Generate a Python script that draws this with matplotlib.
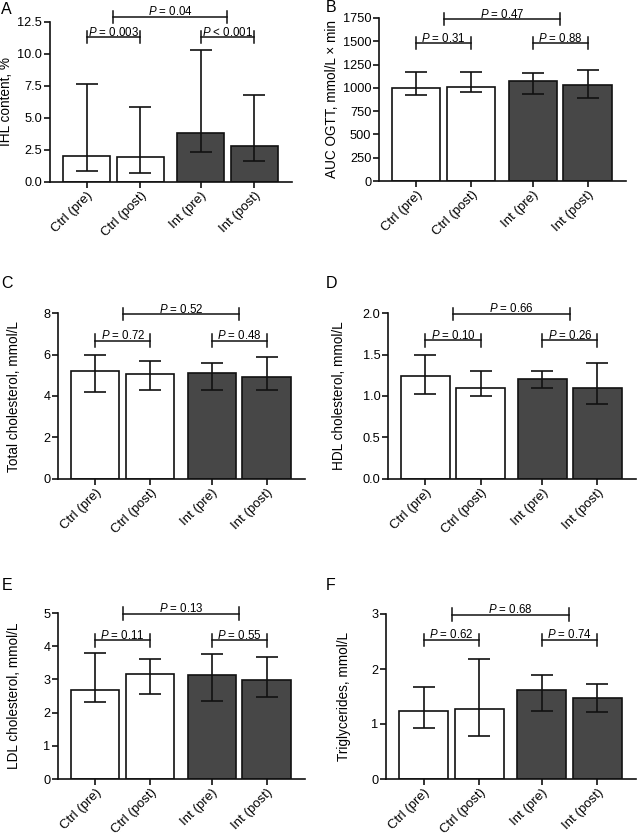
import matplotlib
matplotlib.use("Agg")
import matplotlib.pyplot as plt
import numpy as np

plt.rcParams['font.family'] = ['Liberation Sans', 'DejaVu Sans']
plt.rcParams['mathtext.fontset'] = 'custom'
plt.rcParams['mathtext.it'] = 'Liberation Sans:italic'
plt.rcParams['mathtext.rm'] = 'Liberation Sans'

categories = ["Ctrl (pre)", "Ctrl (post)", "Int (pre)", "Int (post)"]
bar_colors = ["white", "white", "#474747", "#474747"]

# Panel A: IHL content
a_vals = [2.07, 1.94, 3.84, 2.82]
a_lo = [0.89, 0.68, 2.33, 1.62]
a_hi = [7.69, 5.86, 10.30, 6.80]
a_p = ["= 0.003", "< 0.001", "= 0.04"]

# Panel B: AUC OGTT
b_vals = [1000, 1007, 1075, 1029]
b_lo = [921, 954, 936, 893]
b_hi = [1171, 1171, 1164, 1189]
b_p = ["= 0.31", "= 0.88", "= 0.47"]

# Panel C: Total cholesterol
c_vals = [5.19, 5.05, 5.11, 4.92]
c_lo = [4.18, 4.31, 4.31, 4.31]
c_hi = [6.00, 5.71, 5.61, 5.87]
c_p = ["= 0.72", "= 0.48", "= 0.52"]

# Panel D: HDL cholesterol
d_vals = [1.246, 1.097, 1.20, 1.10]
d_lo = [1.02, 1.00, 1.10, 0.90]
d_hi = [1.50, 1.30, 1.30, 1.40]
d_p = ["= 0.10", "= 0.26", "= 0.66"]

# Panel E: LDL cholesterol
e_vals = [2.68, 3.17, 3.12, 2.98]
e_lo = [2.31, 2.57, 2.36, 2.48]
e_hi = [3.80, 3.60, 3.76, 3.67]
e_p = ["= 0.11", "= 0.55", "= 0.13"]

# Panel F: Triglycerides
f_vals = [1.235, 1.27, 1.61, 1.47]
f_lo = [0.92, 0.79, 1.235, 1.21]
f_hi = [1.67, 2.19, 1.89, 1.73]
f_p = ["= 0.62", "= 0.74", "= 0.68"]

W, H = 638, 836
fig = plt.figure(figsize=(W / 100, H / 100), dpi=100)

def box(l, r, t, b):
    return [l / W, 1 - b / H, (r - l) / W, (b - t) / H]

xpos = np.array([0, 1, 2.12, 3.12])

def panel(rect, letter, letter_xy, vals, lo, hi, p, ymax, yticks, yticklabels, ylabel,
          br_low, br_high, ylab_x):
    ax = fig.add_axes(rect)
    vals = np.array(vals); lo = np.array(lo); hi = np.array(hi)
    ax.bar(xpos, vals, width=0.88, color=bar_colors, edgecolor="#111111", linewidth=1.2, zorder=2)
    ax.errorbar(xpos, vals, yerr=[vals - lo, hi - vals], fmt="none", ecolor="#111111",
                elinewidth=1.2, capsize=8, capthick=1.2, zorder=3)
    ax.set_xlim(-0.68, 3.82)
    ax.set_ylim(0, ymax)
    ax.set_yticks(yticks)
    ax.set_yticklabels(yticklabels, fontsize=9.2)
    ax.set_xticks(xpos)
    ax.set_xticklabels(categories, rotation=45, ha="right", rotation_mode="anchor", fontsize=9.5)
    for s in ["top", "right"]:
        ax.spines[s].set_visible(False)
    for s in ["left", "bottom"]:
        ax.spines[s].set_linewidth(1.2)
        ax.spines[s].set_color("#111111")
    ax.tick_params(direction="out", length=4, width=1.2, color="#111111", pad=1.5)
    ax.set_ylabel(ylabel, fontsize=9.8)
    l, b, w, h = rect
    ax.yaxis.set_label_coords((ylab_x / W - l) / w, 0.5)
    th = ymax * 0.038
    pairs = [(xpos[0], xpos[1], br_low), (xpos[2], xpos[3], br_low),
             (0.5 * (xpos[0] + xpos[1]), 0.5 * (xpos[2] + xpos[3]), br_high)]
    for (x0, x1, yb), ptxt in zip(pairs, p):
        ax.plot([x0, x1], [yb, yb], color="#111111", lw=1.1, clip_on=False, zorder=4)
        for xx in (x0, x1):
            ax.plot([xx, xx], [yb - th, yb + th], color="#111111", lw=1.1, clip_on=False, zorder=4)
        ax.text(0.5 * (x0 + x1), yb - ymax * 0.01, "$P$ " + ptxt, ha="center", va="bottom",
                fontsize=8.3, clip_on=False)
    fig.text(letter_xy[0] / W, 1 - letter_xy[1] / H, letter, fontsize=11.5, ha="left", va="center")
    return ax

panel(box(50, 292, 22, 182), "A", (1, 10), a_vals, a_lo, a_hi, a_p, 12.5,
      [0, 2.5, 5, 7.5, 10, 12.5], ["0.0", "2.5", "5.0", "7.5", "10.0", "12.5"],
      "IHL content, %", 11.3, 12.9, 13)

panel(box(379, 626, 18, 181), "B", (326, 8), b_vals, b_lo, b_hi, b_p, 1750,
      [0, 250, 500, 750, 1000, 1250, 1500, 1750],
      ["0", "250", "500", "750", "1000", "1250", "1500", "1750"],
      "AUC OGTT, mmol/L × min", 1482, 1736, 339)

panel(box(58, 305, 313, 479), "C", (1, 283), c_vals, c_lo, c_hi, c_p, 8,
      [0, 2, 4, 6, 8], ["0", "2", "4", "6", "8"],
      "Total cholesterol, mmol/L", 6.66, 7.95, 21)

panel(box(388, 636, 313, 479), "D", (326, 283), d_vals, d_lo, d_hi, d_p, 2.0,
      [0, 0.5, 1.0, 1.5, 2.0], ["0.0", "0.5", "1.0", "1.5", "2.0"],
      "HDL cholesterol, mmol/L", 1.67, 1.99, 346)

panel(box(58, 305, 613, 779), "E", (2, 585), e_vals, e_lo, e_hi, e_p, 5,
      [0, 1, 2, 3, 4, 5], ["0", "1", "2", "3", "4", "5"],
      "LDL cholesterol, mmol/L", 4.18, 4.98, 21)

panel(box(386, 636, 614, 779), "F", (326, 585), f_vals, f_lo, f_hi, f_p, 3,
      [0, 1, 2, 3], ["0", "1", "2", "3"],
      "Triglycerides, mmol/L", 2.53, 2.99, 351)

fig.savefig("out.png", dpi=100)
